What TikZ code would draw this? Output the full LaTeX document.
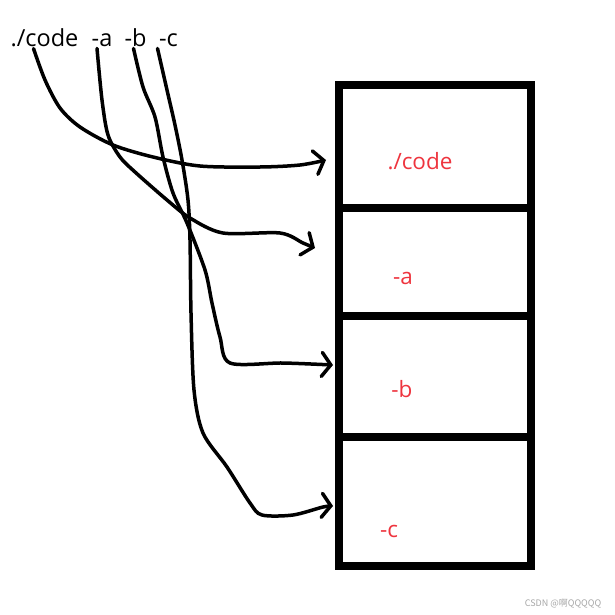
\documentclass[tikz,border=0pt]{standalone}
\usepackage{fontspec}
\setmainfont{Open Sans}
\newfontfamily\cjkfont{Noto Sans CJK SC}
\usetikzlibrary{arrows.meta}

\definecolor{argred}{RGB}{238,52,62}

\begin{document}
\begin{tikzpicture}[x=1pt,y=-1pt]
\tikzset{
cell/.style={draw, line width=8pt, minimum width=192pt, inner sep=0pt},
arg/.style={anchor=base, inner sep=1pt, font=\fontsize{23.5}{28}\selectfont},
val/.style={anchor=base, inner sep=1pt, text=argred, font=\fontsize{22.5}{27}\selectfont},
link/.style={line width=3.5pt, line cap=round, -{Straight Barb[length=9pt,width=24pt,line cap=round]}},
smooth
}

	\useasboundingbox (0,0) rectangle (615,615);

	% command line
	\node[arg] at (44.5,47) (code) {./code};
	\node[arg] at (102,47) (a) {-a};
	\node[arg] at (135.5,47) (b) {-b};
	\node[arg] at (168.5,47) (c) {-c};

	% argv cells
	\node[cell, minimum height=123pt] at (435,146.5) (cell1) {};
	\node[cell, minimum height=108pt] at (435,262) (cell2) {};
	\node[cell, minimum height=121pt] at (435,376.5) (cell3) {};
	\node[cell, minimum height=129pt] at (435,501.5) (cell4) {};

	\node[val] at (420,169) (lcode) {./code};
	\node[val] at (403,284) (la) {-a};
	\node[val] at (402,397) (lb) {-b};
	\node[val] at (389,537) (lc) {-c};

	\draw[link] plot coordinates {([xshift=-11pt]code.south) (45,80) (60,108) (80,127) (113,145) (153,157) (200,166) (260,167) (300,165) ([xshift=-9pt,yshift=-13.5pt]cell1.west)};
	\draw[link] plot coordinates {([xshift=-5pt]a.south) (102,100) (108,135) (120,157) (135,172) (167,200) (190,218) (223,233) (280,233) (303,243) ([xshift=-20pt,yshift=14pt]cell2.west)};
	\draw[link] plot coordinates {([xshift=-2pt]b.south) (143,87) (155,117) (163,157) (173,193) (187,223) (205,270) (212,303) (220,337) (230,363) (283,363) ([xshift=-2pt,yshift=11.5pt]cell3.west)};
	\draw[link] plot coordinates {([xshift=-11pt]c.south) (167,90) (175,125) (182,160) (188,200) (190,240) (191,313) (194,390) (203,433) (227,467) (250,503) (262,515) (293,515) (323,507) ([xshift=-2pt,yshift=-4.5pt]cell4.west)};

	\node[text=black!35, font=\cjkfont\fontsize{9}{11}\selectfont] at (563,604) (mark) {CSDN @啊QQQQQ};

\end{tikzpicture}
\end{document}
